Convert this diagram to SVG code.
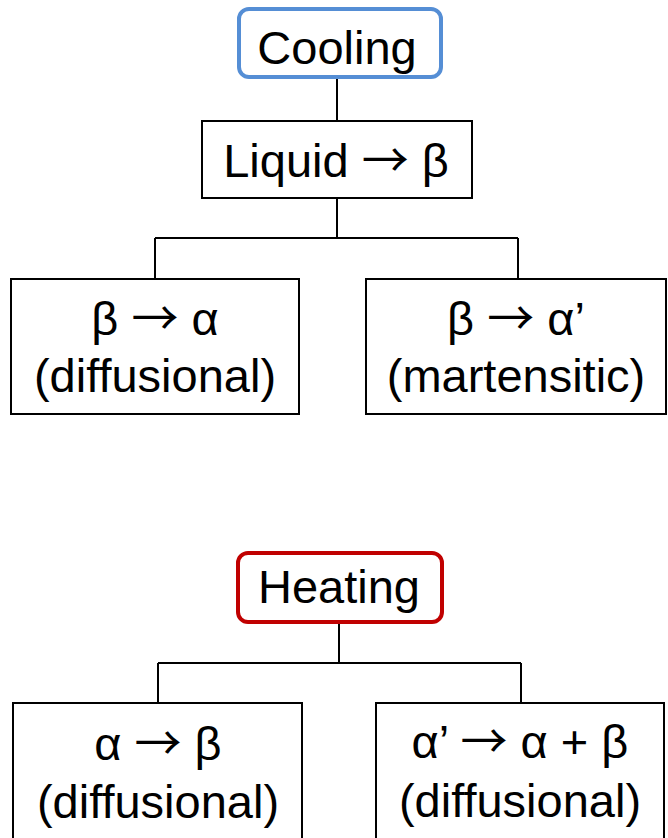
<svg xmlns="http://www.w3.org/2000/svg" width="668" height="838" viewBox="0 0 668 838">
<style>
.box{fill:#fff;stroke:#000;stroke-width:2}
.t{font-family:"Liberation Sans",Arial,sans-serif;font-size:47px;fill:#000;text-anchor:middle}
.a{font-family:"Noto Sans CJK SC",sans-serif;font-size:47px}
.c{fill:none;stroke:#000;stroke-width:2}
</style>
<rect width="668" height="838" fill="#fff"/>
<g id="connectors">
<path class="c" d="M337 78V121M337 198V238M155 238H518M155 238V279M518 238V279"/>
<path class="c" d="M339 623V663M158 663H521M158 663V703M521 663V703"/>
</g>
<g id="cooling">
<rect x="239" y="9" width="202" height="68" rx="10" fill="#fff" stroke="#558ED5" stroke-width="4"/>
<text class="t" x="337" y="64">Cooling</text>
</g>
<g id="liquid">
<rect class="box" x="202" y="121" width="270" height="77"/>
<text class="t" x="336" y="177">Liquid <tspan class="a">→</tspan> β</text>
</g>
<g id="beta-alpha">
<rect class="box" x="11" y="279" width="288" height="135"/>
<text class="t" x="155" y="335">β <tspan class="a">→</tspan> α</text>
<text class="t" x="155" y="392">(diffusional)</text>
</g>
<g id="beta-alphaprime">
<rect class="box" x="366" y="279" width="300" height="135"/>
<text class="t" x="516" y="335">β <tspan class="a">→</tspan> α’</text>
<text class="t" x="516" y="392">(martensitic)</text>
</g>
<g id="heating">
<rect x="238" y="553" width="204" height="69" rx="10" fill="#fff" stroke="#C00000" stroke-width="4"/>
<text class="t" x="339" y="603">Heating</text>
</g>
<g id="alpha-beta">
<rect class="box" x="13" y="703" width="289" height="145"/>
<text class="t" x="158" y="760">α <tspan class="a">→</tspan> β</text>
<text class="t" x="158" y="818">(diffusional)</text>
</g>
<g id="alphaprime-alpha-beta">
<rect class="box" x="376" y="703" width="288" height="145"/>
<text class="t" x="520" y="758">α’ <tspan class="a">→</tspan> α + β</text>
<text class="t" x="520" y="817">(diffusional)</text>
</g>
</svg>
